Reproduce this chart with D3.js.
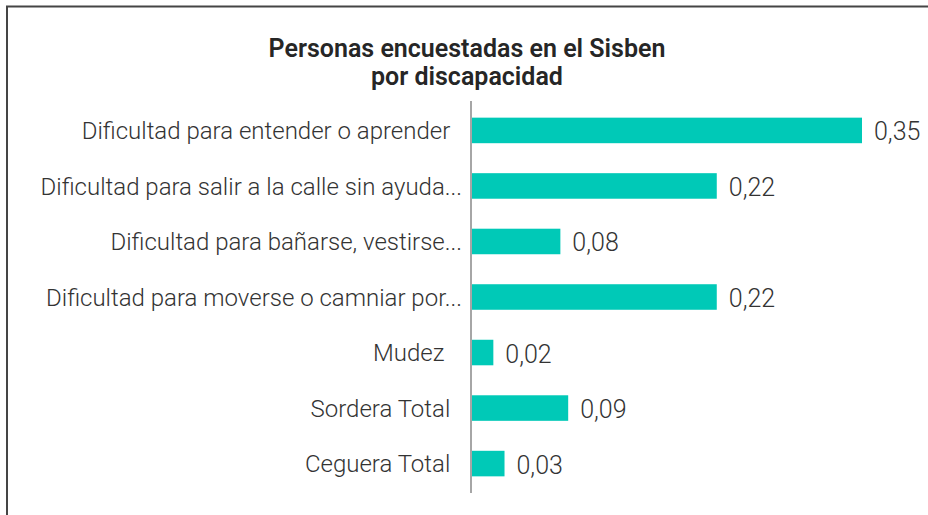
<!DOCTYPE html>
<html>
<head>
<meta charset="utf-8">
<script src="https://cdn.jsdelivr.net/npm/d3@7"></script>
<style>
  html, body { margin: 0; padding: 0; background: #fff; }
  svg { display: block; }
</style>
</head>
<body>
<script>
// data
var categorias = [
  "Dificultad para entender o aprender  ",
  "Dificultad para salir a la calle sin ayuda...",
  "Dificultad para bañarse, vestirse...",
  "Dificultad para moverse o camniar por...",
  "Mudez   ",
  "Sordera Total  ",
  "Ceguera Total  "
];
var valores = [0.35, 0.22, 0.08, 0.22, 0.02, 0.087, 0.03];
var titulo = ["Personas encuestadas en el Sisben", "por discapacidad"];

var ancho = 928, alto = 515;
var fuente = "Roboto, 'Liberation Sans', sans-serif";

var svg = d3.select("body")
  .append("svg")
  .attr("width", ancho)
  .attr("height", alto);

svg.append("rect")
  .attr("width", ancho)
  .attr("height", alto)
  .attr("fill", "#fff");

// marco (se corta a la derecha y abajo)
svg.append("rect")
  .attr("x", 7)
  .attr("y", 6.5)
  .attr("width", 1000)
  .attr("height", 600)
  .attr("fill", "none")
  .attr("stroke", "#454545")
  .attr("stroke-width", 2);

var tit = svg.append("text")
  .attr("x", 467)
  .attr("y", 57)
  .attr("text-anchor", "middle")
  .style("font-family", fuente)
  .style("font-weight", 600)
  .style("font-size", "25px")
  .attr("fill", "#262626");
tit.selectAll("tspan")
  .data(titulo)
  .join("tspan")
  .attr("x", 467)
  .attr("dy", function (d, i) { return i === 0 ? 0 : 28; })
  .text(function (d) { return d; });

var ejeX = 471;
var x = d3.scaleLinear()
  .domain([0, 0.35])
  .range([ejeX, 862]);

var y = d3.scaleBand()
  .domain(categorias)
  .range([101, 493])
  .paddingInner(0.54)
  .paddingOuter(0.3);

var fmt = function (v) { return d3.format(".2f")(v).replace(".", ","); };

var filas = svg.append("g")
  .selectAll("g")
  .data(categorias)
  .join("g");

filas.append("rect")
  .attr("x", x(0))
  .attr("y", function (d) { return y(d); })
  .attr("width", function (d, i) { return x(valores[i]) - x(0); })
  .attr("height", y.bandwidth())
  .attr("fill", "#00c9b7");

filas.append("text")
  .attr("x", function (d, i) { return x(valores[i]) + 12; })
  .attr("y", function (d) { return y(d) + y.bandwidth() / 2 + 1; })
  .attr("dy", "0.36em")
  .style("font-family", fuente)
  .style("font-weight", 300)
  .style("font-size", "25px")
  .attr("fill", "#333")
  .text(function (d, i) { return fmt(valores[i]); });

filas.append("text")
  .attr("x", 462)
  .attr("y", function (d) { return y(d) + y.bandwidth() / 2; })
  .attr("dy", "0.36em")
  .attr("text-anchor", "end")
  .style("white-space", "pre")
  .style("font-family", fuente)
  .style("font-weight", 300)
  .style("font-size", "24px")
  .attr("fill", "#333")
  .text(function (d) { return d; });

// eje vertical
svg.append("line")
  .attr("x1", ejeX)
  .attr("x2", ejeX)
  .attr("y1", 101)
  .attr("y2", 493)
  .attr("stroke", "#a6a6a6")
  .attr("stroke-width", 2);
</script>
</body>
</html>
